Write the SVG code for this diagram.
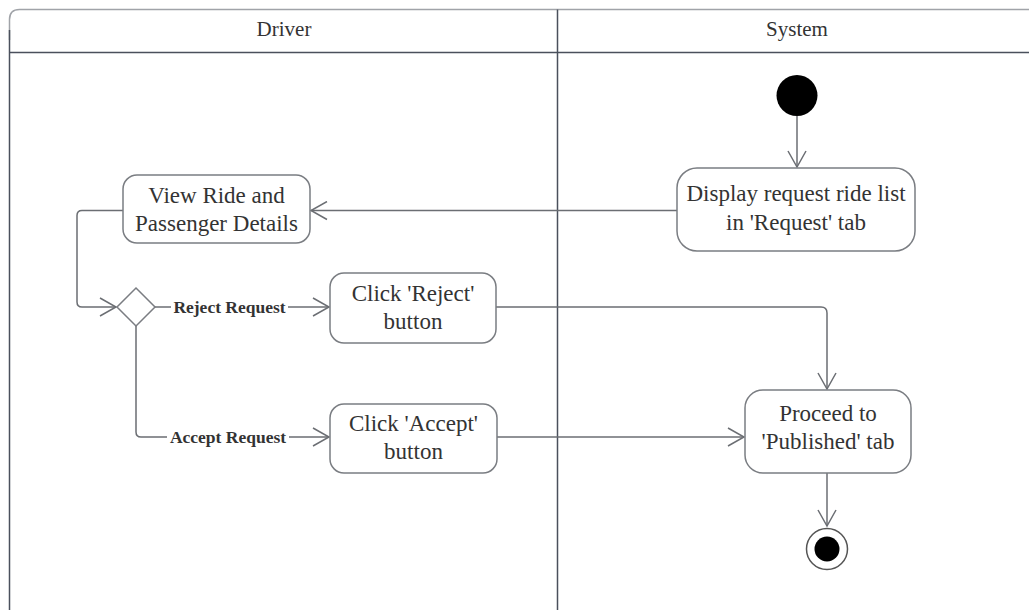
<svg xmlns="http://www.w3.org/2000/svg" width="1029" height="610" viewBox="0 0 1029 610">
<defs>
<style>
.lane{fill:none;stroke:#4a505c;stroke-width:1.5}
.top{fill:none;stroke:#a0a3a8;stroke-width:1.5}
.hdr{font-family:"Liberation Serif",serif;font-size:21px;fill:#333;text-anchor:middle}
.box{fill:#fff;stroke:#7a7d82;stroke-width:1.5}
.txt{font-family:"Liberation Serif",serif;font-size:23px;fill:#333;text-anchor:middle}
.edge{fill:none;stroke:#6b6e73;stroke-width:1.5}
.lbl{font-family:"Liberation Serif",serif;font-size:17.5px;font-weight:bold;fill:#333;text-anchor:middle}
.lblbg{fill:#fff}
</style>
<marker id="arr" viewBox="0 0 20 20" refX="18" refY="10" markerWidth="20" markerHeight="20" markerUnits="userSpaceOnUse" orient="auto">
<path d="M2,1 L18,10 L2,19" fill="none" stroke="#6b6e73" stroke-width="1.5"/>
</marker>
</defs>
<rect width="1029" height="610" fill="#fff"/>
<g id="lanes">
<path class="top" d="M9.5,40 V19.5 Q9.5,9.5 19.5,9.5 H1040"/>
<path class="lane" d="M9.5,52.5 H1040"/>
<path class="lane" d="M9.5,30 V625"/>
<path class="lane" d="M557.5,9.5 V625"/>
<text class="hdr" x="284" y="36">Driver</text>
<text class="hdr" x="797" y="36">System</text>
</g>
<g id="connectors">
<path class="edge" d="M797,116 V167" marker-end="url(#arr)"/>
<path class="edge" d="M677,210.5 H311" marker-end="url(#arr)"/>
<path class="edge" d="M123,210.5 H82 Q77,210.5 77,215.5 V302 Q77,307 82,307 H116" marker-end="url(#arr)"/>
<path class="edge" d="M155,307 H329" marker-end="url(#arr)"/>
<path class="edge" d="M136,326 V432 Q136,437 141,437 H329" marker-end="url(#arr)"/>
<path class="edge" d="M496,307 H821 Q827,307 827,313 V389" marker-end="url(#arr)"/>
<path class="edge" d="M497,437 H744" marker-end="url(#arr)"/>
<path class="edge" d="M827,473 V526" marker-end="url(#arr)"/>
<rect class="lblbg" x="171" y="297" width="117" height="20"/>
<text class="lbl" x="229.5" y="313">Reject Request</text>
<rect class="lblbg" x="167" y="427" width="122" height="20"/>
<text class="lbl" x="228" y="443">Accept Request</text>
</g>
<g id="start">
<circle cx="797" cy="95.5" r="20.5" fill="#000"/>
</g>
<g id="display">
<rect class="box" x="677" y="168" width="238" height="83" rx="20"/>
<text class="txt" x="796" y="201">Display request ride list</text>
<text class="txt" x="796" y="230">in 'Request' tab</text>
</g>
<g id="view">
<rect class="box" x="123" y="175" width="187" height="68" rx="14"/>
<text class="txt" x="216.5" y="203">View Ride and</text>
<text class="txt" x="216.5" y="231">Passenger Details</text>
</g>
<g id="decision">
<path class="box" d="M136,288 L155,307 L136,326 L117,307 Z"/>
</g>
<g id="reject">
<rect class="box" x="330" y="273" width="166" height="70" rx="14"/>
<text class="txt" x="413" y="301">Click 'Reject'</text>
<text class="txt" x="413" y="329">button</text>
</g>
<g id="accept">
<rect class="box" x="330" y="404" width="167" height="69" rx="14"/>
<text class="txt" x="413.5" y="431">Click 'Accept'</text>
<text class="txt" x="413.5" y="459">button</text>
</g>
<g id="proceed">
<rect class="box" x="745" y="390" width="166" height="83" rx="18"/>
<text class="txt" x="828" y="421">Proceed to</text>
<text class="txt" x="828" y="449">'Published' tab</text>
</g>
<g id="end">
<circle cx="827" cy="549" r="20.5" fill="#fff" stroke="#555" stroke-width="1.5"/>
<circle cx="827" cy="549" r="12.5" fill="#000"/>
</g>
</svg>
